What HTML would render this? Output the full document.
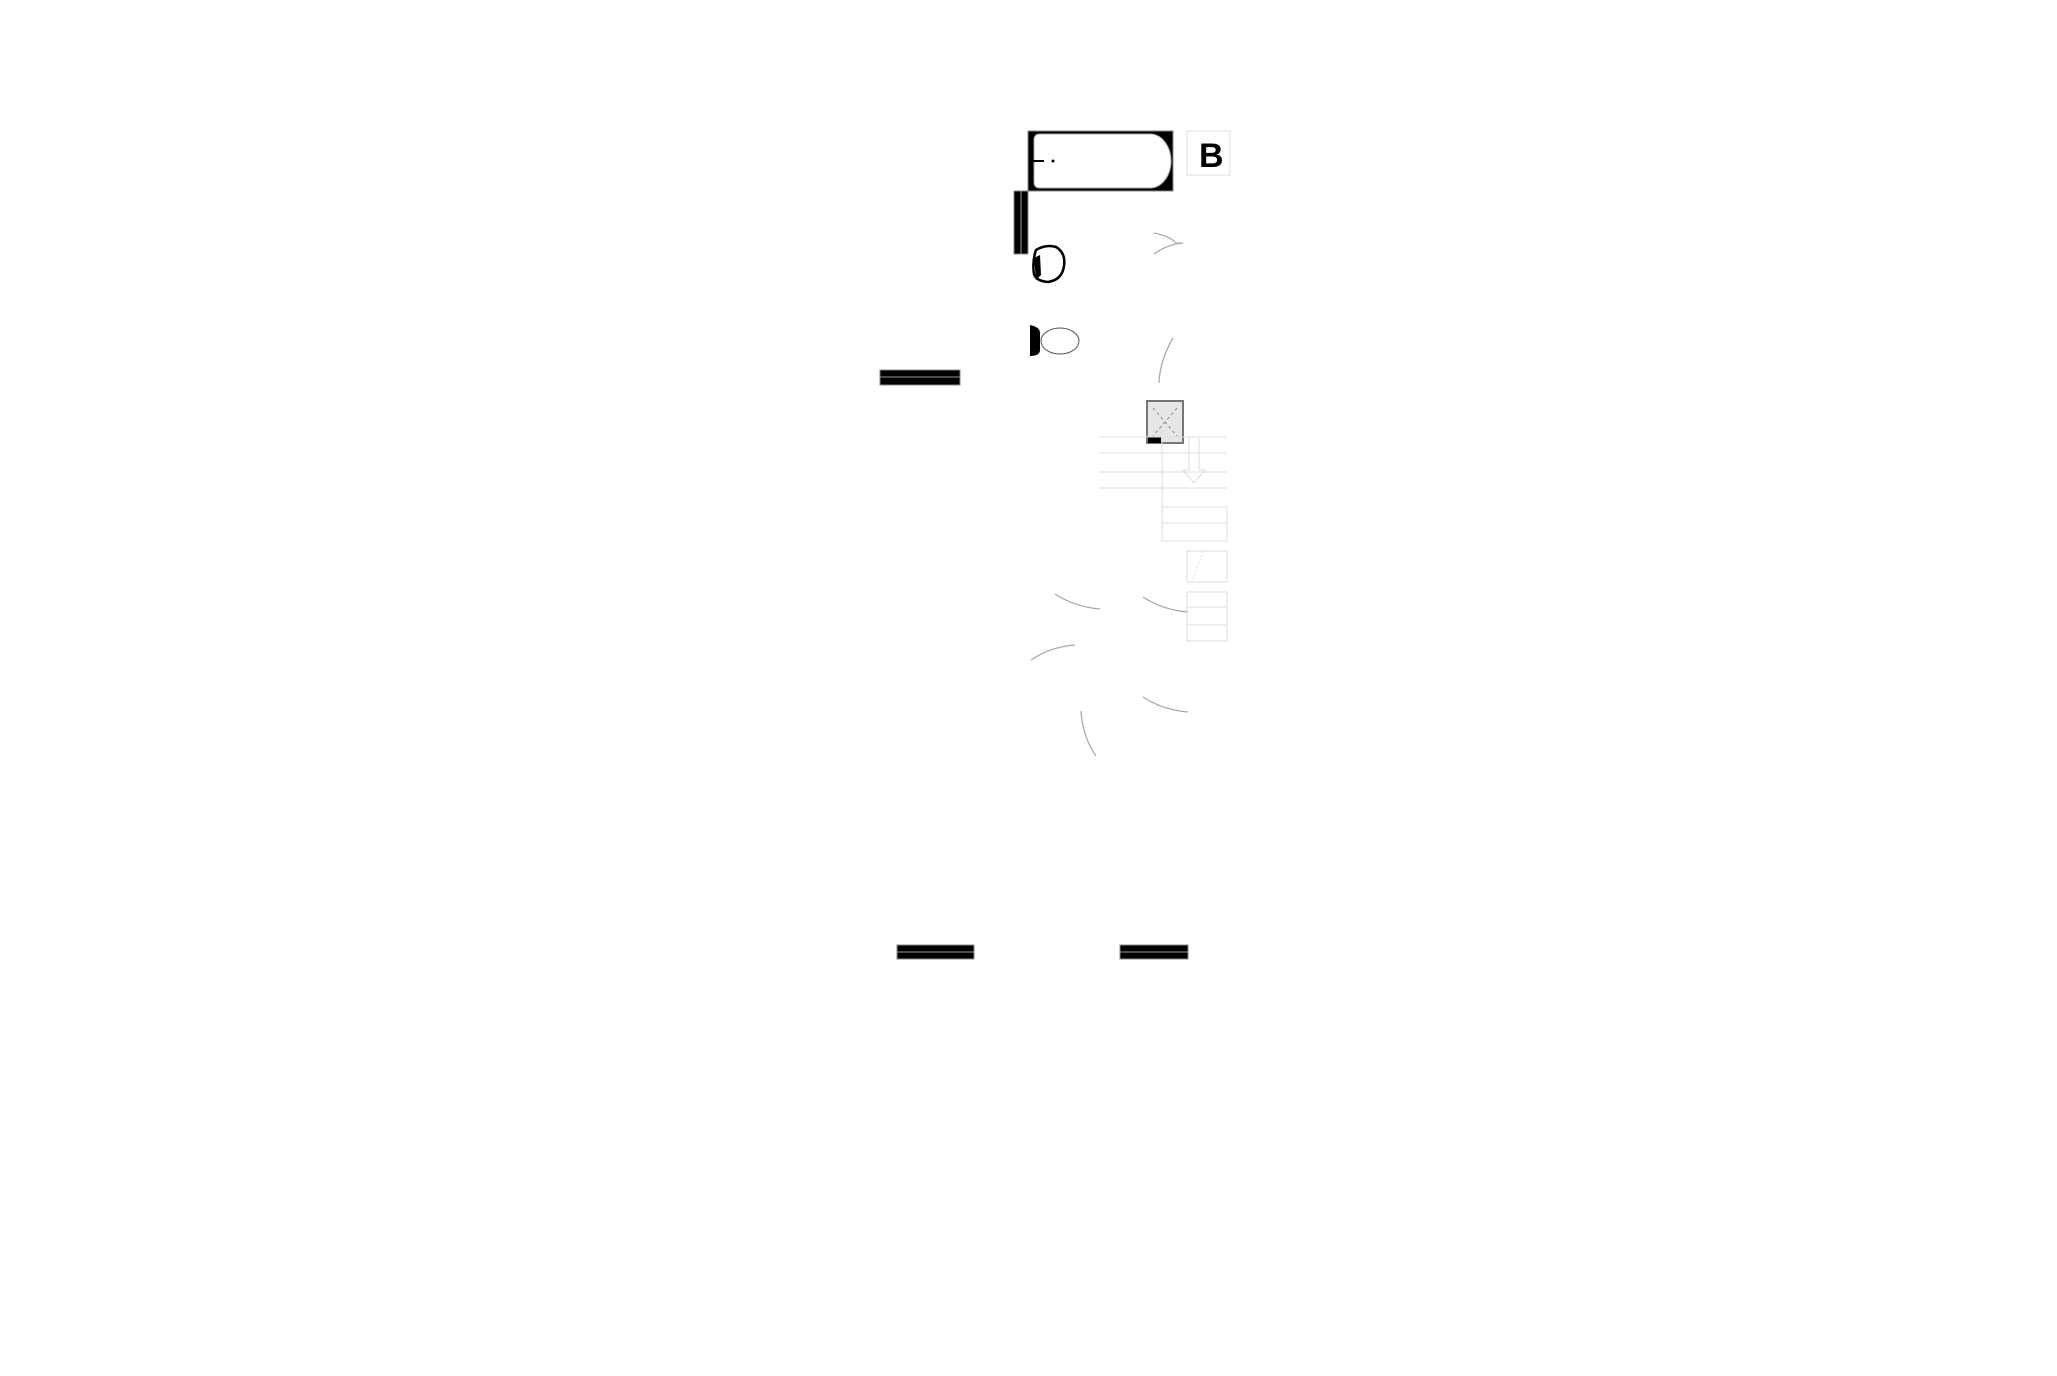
<!DOCTYPE html>
<html><head><style>html,body{margin:0;padding:0;background:#fff}</style></head>
<body>
<svg width="2057" height="1371" viewBox="0 0 2057 1371" xmlns="http://www.w3.org/2000/svg">
<rect width="2057" height="1371" fill="#fff"/>
<!-- bathtub -->
<rect x="1028" y="131" width="145" height="60" fill="#000" stroke="#888" stroke-width="1"/>
<path d="M1040 134 H1150 A21 27 0 0 1 1150 188 H1040 Q1034 188 1034 182 V140 Q1034 134 1040 134 Z" fill="#fff" stroke="#aaa"/>
<line x1="1033" y1="161" x2="1044" y2="161" stroke="#000" stroke-width="2"/>
<circle cx="1053" cy="161" r="1.5" fill="#000"/>
<!-- B -->
<rect x="1187" y="131" width="43" height="44" fill="#fff" stroke="#ddd"/>
<text x="1199" y="167" font-family="Liberation Sans, sans-serif" font-weight="bold" font-size="34" fill="#000">B</text>
<!-- vertical bar -->
<rect x="1014" y="191" width="14" height="63" fill="#000" stroke="#888"/>
<line x1="1021" y1="191" x2="1021" y2="254" stroke="#999"/>
<!-- sink -->
<path d="M1036 250 Q1046 244 1056 247 Q1066 253 1064 266 Q1062 280 1048 282 Q1036 281 1034 274 Q1032 262 1036 250 Z" fill="#fff" stroke="#000" stroke-width="2.5"/>
<path d="M1034 258 L1040 255 L1041 275 L1036 280 Z" fill="#000"/>
<!-- toilet -->
<path d="M1030 325 Q1040 327 1040 333 V350 Q1040 356 1030 356 Z" fill="#000"/>
<ellipse cx="1060" cy="341" rx="19" ry="13" fill="#fff" stroke="#555"/>
<!-- horizontal bars -->
<rect x="880" y="370" width="80" height="15" fill="#000" stroke="#888"/>
<line x1="880" y1="377" x2="960" y2="377" stroke="#999"/>
<rect x="897" y="945" width="77" height="14" fill="#000" stroke="#888"/>
<line x1="897" y1="952" x2="974" y2="952" stroke="#999"/>
<rect x="1120" y="945" width="68" height="14" fill="#000" stroke="#888"/>
<line x1="1120" y1="952" x2="1188" y2="952" stroke="#999"/>
<!-- arcs -->
<g fill="none" stroke="#aaa" stroke-width="1.3">
<path d="M1154 233 Q1170 236 1176 243 Q1178 243 1183 243 Q1168 244 1154 254"/>
<path d="M1173 338 Q1160 360 1159 383"/>
<path d="M1055 594 Q1075 607 1100 609"/>
<path d="M1143 597 Q1163 610 1188 612"/>
<path d="M1031 660 Q1050 647 1075 645"/>
<path d="M1143 697 Q1163 710 1188 712"/>
<path d="M1081 711 Q1082 735 1096 756"/>
</g>
<!-- grey box -->
<rect x="1147" y="401" width="36" height="42" fill="#e6e6e6" stroke="#777" stroke-width="2"/>
<g stroke="#888" stroke-dasharray="3,3"><line x1="1153" y1="408" x2="1177" y2="436"/><line x1="1177" y1="408" x2="1153" y2="436"/></g>
<rect x="1148" y="437" width="13" height="6" fill="#000"/>
<!-- stair lines -->
<g fill="none" stroke="#ddd" stroke-width="1">
<line x1="1099" y1="437" x2="1227" y2="437"/>
<line x1="1099" y1="453" x2="1227" y2="453"/>
<line x1="1099" y1="472" x2="1227" y2="472"/>
<line x1="1099" y1="488" x2="1227" y2="488"/>
<line x1="1162" y1="437" x2="1162" y2="541"/>
<rect x="1162" y="507" width="65" height="16"/>
<rect x="1162" y="523" width="65" height="18"/>
<path d="M1189 437 V470 H1183 L1194 483 L1205 470 H1199 V437"/>
<rect x="1187" y="551" width="40" height="31"/>
<path d="M1203 551 L1192 582" stroke-dasharray="2,2"/>
<rect x="1187" y="592" width="40" height="15"/>
<rect x="1187" y="607" width="40" height="18"/>
<rect x="1187" y="625" width="40" height="16"/>
</g>
</svg>
</body></html>
